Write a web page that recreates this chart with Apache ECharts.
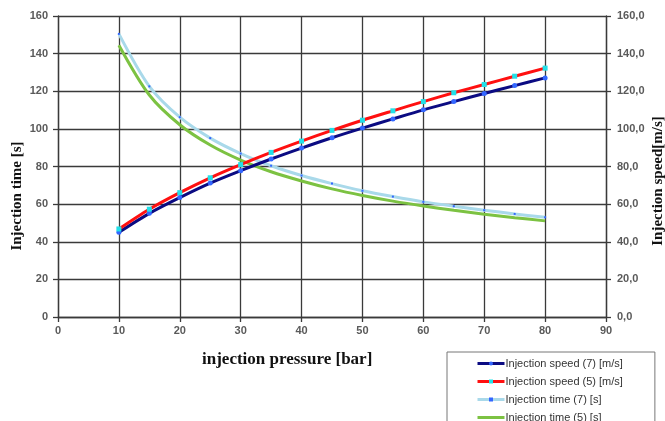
<!DOCTYPE html>
<html>
<head>
<meta charset="utf-8">
<script src="https://cdn.jsdelivr.net/npm/echarts@6/dist/echarts.min.js"></script>
<style>
html,body{margin:0;padding:0;background:#fff;}
#chart{width:665px;height:421px;}
</style>
</head>
<body>
<div id="chart"></div>
<script>
var pressure = [10, 15, 20, 25, 30, 35, 40, 45, 50, 55, 60, 65, 70, 75, 80];
var speed7 = [45, 55.1, 63.5, 71.2, 77.8, 84, 89.8, 95.3, 100.4, 105.3, 110.1, 114.5, 118.8, 123, 127.1];
var speed5 = [46.8, 57.3, 66.1, 74, 81, 87.5, 93.5, 99.2, 104.6, 109.6, 114.5, 119.2, 123.6, 128, 132.3];
var time7 = [150.5, 122.6, 106.2, 95.1, 86.9, 80.4, 75.2, 70.9, 67.1, 64, 61.2, 58.9, 56.8, 54.8, 53];
var time5 = [144.5, 118, 102.2, 91.4, 83.4, 77.2, 72.3, 68.1, 64.6, 61.6, 59, 56.7, 54.6, 52.8, 51.1];
var xTicks = [0, 10, 20, 30, 40, 50, 60, 70, 80, 90];
var yTicks = [0, 20, 40, 60, 80, 100, 120, 140, 160];

function pairs(ys){ return pressure.map(function(x,i){ return [x, ys[i]]; }); }

var chart = echarts.init(document.getElementById('chart'), null, {renderer:'canvas'});
var gridColor = '#3a3a3a';
var labelStyle = {color:'#5a5a5a', fontSize:11, fontWeight:'bold', fontFamily:'Liberation Sans, Arial, sans-serif'};
chart.setOption({
  animation:false,
  backgroundColor:'#fff',
  grid:{left:58, right:59, top:16, bottom:104, containLabel:false},
  xAxis:{
    type:'value', min:xTicks[0], max:xTicks[xTicks.length-1], interval:10,
    axisLine:{show:true, lineStyle:{color:gridColor, width:1.3}},
    axisTick:{show:true, length:5, lineStyle:{color:gridColor, width:1.3}},
    axisLabel:Object.assign({margin:8}, labelStyle),
    splitLine:{show:true, lineStyle:{color:gridColor, width:1.3}}
  },
  yAxis:[{
    type:'value', min:yTicks[0], max:yTicks[yTicks.length-1], interval:20, position:'left',
    axisLine:{show:true, lineStyle:{color:gridColor, width:1.3}},
    axisTick:{show:true, length:5, lineStyle:{color:gridColor, width:1.3}},
    axisLabel:Object.assign({margin:10}, labelStyle),
    splitLine:{show:true, lineStyle:{color:gridColor, width:1.3}}
  },{
    type:'value', min:yTicks[0], max:yTicks[yTicks.length-1], interval:20, position:'right',
    axisLine:{show:true, lineStyle:{color:gridColor, width:1.3}},
    axisTick:{show:true, length:5, lineStyle:{color:gridColor, width:1.3}},
    axisLabel:Object.assign({margin:11, formatter:function(v){return v.toFixed(1).replace('.', ',');}}, labelStyle),
    splitLine:{show:false}
  }],
  legend:{
    orient:'vertical', left:447, top:352, width:200, height:100,
    itemWidth:27, itemHeight:5, itemGap:5,
    padding:[5, 32, 5, 29],
    borderColor:'#777', borderWidth:1, backgroundColor:'#fff',
    lineStyle:{width:3},
    textStyle:{color:'#333', fontSize:11, lineHeight:13, fontFamily:'Liberation Sans, Arial, sans-serif', padding:[0,0,0,-4]},
    data:[
      {name:'Injection speed (7) [m/s]'},
      {name:'Injection speed (5) [m/s]'},
      {name:'Injection time (7) [s]'},
      {name:'Injection time (5) [s]', itemStyle:{opacity:0}}
    ]
  },
  graphic:[
    {type:'text', left:202, top:351, style:{text:'injection pressure [bar]', font:'bold 17px "Liberation Serif", "Times New Roman", serif', fill:'#111'}},
    {type:'text', x:17, y:196, rotation:Math.PI/2, style:{text:'Injection time [s]', font:'bold 15px "Liberation Serif", "Times New Roman", serif', fill:'#111', align:'center', verticalAlign:'middle'}},
    {type:'text', x:658, y:181, rotation:Math.PI/2, style:{text:'Injection speed[m/s]', font:'bold 15px "Liberation Serif", "Times New Roman", serif', fill:'#111', align:'center', verticalAlign:'middle'}}
  ],
  series:[
    {name:'Injection speed (7) [m/s]', type:'line', yAxisIndex:1, smooth:0.3, data:pairs(speed7),
     lineStyle:{color:'#0b0b82', width:3}, itemStyle:{color:'#3366ff'}, symbol:'circle', symbolSize:5, showSymbol:true, z:3},
    {name:'Injection speed (5) [m/s]', type:'line', yAxisIndex:1, smooth:0.3, data:pairs(speed5),
     lineStyle:{color:'#ff1010', width:3}, itemStyle:{color:'#22e0e8'}, symbol:'rect', symbolSize:5, showSymbol:true, z:3},
    {name:'Injection time (7) [s]', type:'line', yAxisIndex:0, smooth:0.3, data:pairs(time7),
     lineStyle:{color:'#a9d9ea', width:3}, itemStyle:{color:'#3366ff'}, symbol:'rect', symbolSize:2, showSymbol:true, z:2},
    {name:'Injection time (5) [s]', type:'line', yAxisIndex:0, smooth:0.3, data:pairs(time5),
     lineStyle:{color:'#7cc242', width:3}, itemStyle:{color:'#7cc242'}, symbol:'none', z:2}
  ]
});
</script>
</body>
</html>
